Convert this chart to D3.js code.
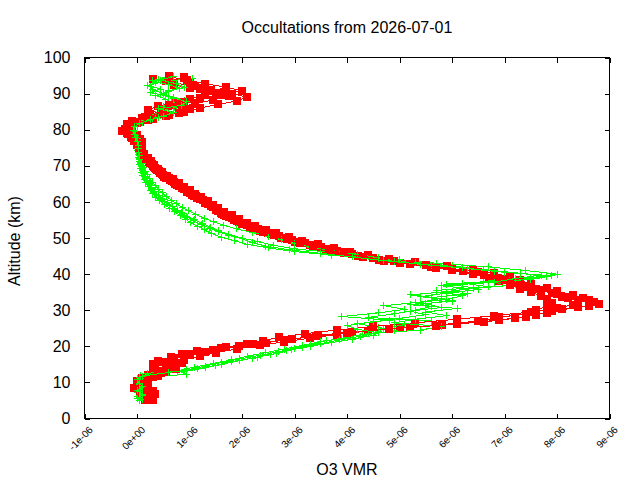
<!DOCTYPE html>
<html>
<head>
<meta charset="utf-8">
<script src="https://cdn.jsdelivr.net/npm/d3@7"></script>
<style>
  body { margin: 0; background: #fff; }
  text { font-family: "Liberation Sans", Arial, sans-serif; fill: #000; }
</style>
</head>
<body>
<script>
// Tangent altitudes (km) of the four occultation grids
const altitudesA = [
  5, 6, 7, 8, 9, 10, 11, 12, 13, 14,
  15, 16, 17, 18, 19, 20, 21, 22, 23, 24,
  25, 26, 27, 28, 29, 30, 31, 32, 33, 34,
  35, 36, 37, 38, 39, 40, 41, 42, 43, 44,
  45, 46, 47, 48, 49, 50, 51, 52, 53, 54,
  55, 56, 57, 58, 59, 60, 61, 62, 63, 64,
  65, 66, 67, 68, 69, 70, 71, 72, 73, 74,
  75, 76, 77, 78, 79, 80, 81, 82, 83, 84,
  85, 86, 87, 88, 89, 90, 91, 92, 93, 94
];
const altitudesB = [
  5.25, 6.25, 7.25, 8.25, 9.25, 10.25, 11.25, 12.25, 13.25, 14.25,
  15.25, 16.25, 17.25, 18.25, 19.25, 20.25, 21.25, 22.25, 23.25, 24.25,
  25.25, 26.25, 27.25, 28.25, 29.25, 30.25, 31.25, 32.25, 33.25, 34.25,
  35.25, 36.25, 37.25, 38.25, 39.25, 40.25, 41.25, 42.25, 43.25, 44.25,
  45.25, 46.25, 47.25, 48.25, 49.25, 50.25, 51.25, 52.25, 53.25, 54.25,
  55.25, 56.25, 57.25, 58.25, 59.25, 60.25, 61.25, 62.25, 63.25, 64.25,
  65.25, 66.25, 67.25, 68.25, 69.25, 70.25, 71.25, 72.25, 73.25, 74.25,
  75.25, 76.25, 77.25, 78.25, 79.25, 80.25, 81.25, 82.25, 83.25, 84.25,
  85.25, 86.25, 87.25, 88.25, 89.25, 90.25, 91.25, 92.25, 93.25, 94.25
];
const altitudesC = [
  5.5, 6.5, 7.5, 8.5, 9.5, 10.5, 11.5, 12.5, 13.5, 14.5,
  15.5, 16.5, 17.5, 18.5, 19.5, 20.5, 21.5, 22.5, 23.5, 24.5,
  25.5, 26.5, 27.5, 28.5, 29.5, 30.5, 31.5, 32.5, 33.5, 34.5,
  35.5, 36.5, 37.5, 38.5, 39.5, 40.5, 41.5, 42.5, 43.5, 44.5,
  45.5, 46.5, 47.5, 48.5, 49.5, 50.5, 51.5, 52.5, 53.5, 54.5,
  55.5, 56.5, 57.5, 58.5, 59.5, 60.5, 61.5, 62.5, 63.5, 64.5,
  65.5, 66.5, 67.5, 68.5, 69.5, 70.5, 71.5, 72.5, 73.5, 74.5,
  75.5, 76.5, 77.5, 78.5, 79.5, 80.5, 81.5, 82.5, 83.5, 84.5,
  85.5, 86.5, 87.5, 88.5, 89.5, 90.5, 91.5, 92.5, 93.5, 94.5
];
const altitudesD = [
  5.75, 6.75, 7.75, 8.75, 9.75, 10.75, 11.75, 12.75, 13.75, 14.75,
  15.75, 16.75, 17.75, 18.75, 19.75, 20.75, 21.75, 22.75, 23.75, 24.75,
  25.75, 26.75, 27.75, 28.75, 29.75, 30.75, 31.75, 32.75, 33.75, 34.75,
  35.75, 36.75, 37.75, 38.75, 39.75, 40.75, 41.75, 42.75, 43.75, 44.75,
  45.75, 46.75, 47.75, 48.75, 49.75, 50.75, 51.75, 52.75, 53.75, 54.75,
  55.75, 56.75, 57.75, 58.75, 59.75, 60.75, 61.75, 62.75, 63.75, 64.75,
  65.75, 66.75, 67.75, 68.75, 69.75, 70.75, 71.75, 72.75, 73.75, 74.75,
  75.75, 76.75, 77.75, 78.75, 79.75, 80.75, 81.75, 82.75, 83.75, 84.75,
  85.75, 86.75, 87.75, 88.75, 89.75, 90.75, 91.75, 92.75, 93.75, 94.75
];

// O3 VMR in units of 1e-6, red profiles (filled squares)
const red1 = [
  0.15, 0.2, 0.15, 0.05, 0.0, 0.05, 0.15, 0.2, 0.3, 0.35,
  0.3, 0.4, 0.65, 1.0, 1.45, 1.95, 2.45, 2.95, 3.45, 4.1,
  5.0, 5.8, 6.5, 6.9, 7.4, 7.6, 7.8, 7.9, 7.8, 7.7,
  7.5, 7.3, 7.1, 6.9, 6.7, 6.4, 6.0, 5.6, 5.0, 4.6,
  4.2, 3.9, 3.6, 3.3, 3.0, 2.75, 2.55, 2.35, 2.15, 2.0,
  1.85, 1.7, 1.6, 1.5, 1.4, 1.3, 1.15, 1.05, 0.95, 0.85,
  0.72, 0.62, 0.52, 0.43, 0.36, 0.3, 0.22, 0.16, 0.1, 0.06,
  0.03, 0.0, -0.05, -0.12, -0.2, -0.18, -0.1, 0.05, 0.3, 0.6,
  0.9, 1.2, 1.55, 1.9, 2.1, 1.8, 1.4, 1.1, 0.7, 0.3
];
const red2 = [
  0.3, 0.25, 0.2, 0.1, 0.05, 0.0, 0.1, 0.3, 0.45, 0.6,
  0.75, 0.9, 1.2, 1.5, 1.9, 2.35, 2.8, 3.3, 3.8, 4.4,
  5.2, 6.1, 6.9, 7.4, 7.8, 8.1, 8.6, 8.7, 8.5, 8.3,
  8.0, 7.8, 7.5, 7.3, 7.1, 6.8, 6.4, 5.9, 5.3, 4.8,
  4.4, 4.05, 3.75, 3.45, 3.15, 2.9, 2.65, 2.45, 2.25, 2.1,
  1.95, 1.8, 1.65, 1.55, 1.45, 1.35, 1.22, 1.1, 1.0, 0.9,
  0.8, 0.68, 0.58, 0.48, 0.4, 0.33, 0.26, 0.2, 0.14, 0.1,
  0.07, 0.05, 0.0, -0.05, -0.15, -0.22, -0.15, -0.05, 0.1, 0.25,
  0.5, 0.85, 1.1, 1.45, 1.75, 1.5, 1.2, 1.3, 1.0, 0.9
];
const red3 = [
  0.2, 0.1, 0.05, -0.05, 0.0, 0.15, 0.3, 0.45, 0.55, 0.7,
  0.85, 0.9, 1.0, 1.3, 1.6, 2.1, 2.4, 2.7, 3.2, 3.8,
  4.5, 5.3, 6.1, 6.8, 7.5, 8.0, 8.3, 8.4, 8.2, 8.0,
  7.7, 7.5, 7.2, 7.0, 6.8, 6.5, 6.0, 5.5, 4.9, 4.5,
  4.1, 3.8, 3.5, 3.2, 2.95, 2.7, 2.5, 2.3, 2.1, 1.95,
  1.8, 1.65, 1.55, 1.45, 1.35, 1.25, 1.12, 1.0, 0.9, 0.8,
  0.7, 0.6, 0.5, 0.42, 0.34, 0.28, 0.2, 0.14, 0.1, 0.06,
  0.04, 0.1, 0.05, 0.0, -0.1, -0.12, -0.2, -0.1, 0.15, 0.45,
  0.2, 0.4, 0.75, 1.0, 1.3, 1.65, 1.0, 0.7, 0.55, 0.9
];
const red4 = [
  0.25, 0.35, 0.3, 0.2, 0.1, 0.2, 0.4, 0.55, 0.75, 0.6,
  0.5, 0.7, 0.85, 1.15, 1.7, 2.2, 2.8, 3.4, 4.0, 4.8,
  5.7, 6.6, 7.2, 7.6, 7.9, 8.4, 8.8, 8.6, 8.1, 7.9,
  7.6, 7.4, 7.1, 6.9, 6.6, 6.2, 5.7, 5.2, 4.7, 4.3,
  3.95, 3.65, 3.35, 3.1, 2.85, 2.6, 2.4, 2.2, 2.05, 1.9,
  1.75, 1.62, 1.5, 1.4, 1.3, 1.2, 1.08, 0.96, 0.86, 0.76,
  0.66, 0.56, 0.47, 0.39, 0.32, 0.25, 0.18, 0.12, 0.08, 0.04,
  0.0, -0.03, -0.1, -0.18, -0.28, -0.15, 0.0, 0.2, 0.55, 0.8,
  1.0, 0.6, 0.9, 1.2, 1.6, 2.0, 1.7, 1.3, 0.95, 0.6
];

// green profiles (plus marks)
const green1 = [
  0.05, 0.0, 0.1, 0.05, 0.1, 0.05, 0.1, 0.07, 0.9, 1.3,
  1.6, 1.95, 2.3, 2.65, 2.95, 3.3, 3.7, 4.1, 4.5, 4.6,
  4.7, 5.1, 5.6, 4.4, 4.9, 5.3, 5.6, 5.3, 5.9, 6.2,
  5.8, 6.4, 7.2, 6.6, 7.5, 8.0, 7.4, 6.7, 5.7, 5.0,
  4.4, 3.7, 3.0, 2.6, 2.3, 2.0, 1.75, 1.55, 1.4, 1.25,
  1.1, 0.95, 0.85, 0.72, 0.62, 0.52, 0.45, 0.38, 0.32, 0.27,
  0.22, 0.18, 0.14, 0.12, 0.1, 0.08, 0.06, 0.05, 0.03, 0.02,
  0.0, -0.02, 0.0, -0.05, -0.08, -0.1, 0.0, 0.1, 0.3, 0.45,
  0.55, 0.6, 0.8, 0.9, 0.7, 0.5, 0.3, 0.25, 0.35, 0.4
];
const green2 = [
  0.1, 0.05, 0.0, 0.05, 0.0, 0.1, 0.05, 0.95, 0.77, 1.1,
  1.45, 1.8, 2.1, 2.45, 2.8, 3.15, 3.5, 3.9, 4.3, 4.9,
  4.6, 4.2, 4.8, 3.9, 4.6, 5.1, 4.7, 5.4, 5.8, 5.2,
  6.0, 6.4, 5.9, 7.1, 7.8, 7.3, 6.6, 6.0, 5.3, 4.6,
  3.7, 3.0, 2.5, 2.1, 1.85, 1.6, 1.42, 1.28, 1.15, 1.02,
  0.92, 0.82, 0.72, 0.62, 0.52, 0.43, 0.36, 0.3, 0.25, 0.21,
  0.17, 0.14, 0.11, 0.09, 0.07, 0.05, 0.04, 0.03, 0.02, 0.01,
  0.0, -0.01, -0.03, -0.06, -0.1, -0.12, -0.05, 0.05, 0.2, 0.35,
  0.5, 0.7, 0.85, 0.95, 0.6, 0.25, 0.45, 0.2, 0.5, 1.05
];
const green3 = [
  0.0, 0.1, 0.05, 0.1, 0.05, 0.15, 0.1, 0.2, 0.95, 1.3,
  1.6, 1.95, 2.35, 2.7, 3.0, 3.3, 3.6, 4.0, 4.4, 5.4,
  5.8, 4.9, 5.3, 5.9, 5.5, 6.1, 5.2, 6.0, 5.6, 6.3,
  5.7, 6.7, 6.2, 7.5, 7.9, 7.0, 6.3, 5.6, 4.9, 4.6,
  4.2, 3.7, 3.3, 3.0, 2.75, 2.5, 2.2, 1.9, 1.65, 1.45,
  1.28, 1.12, 0.98, 0.86, 0.75, 0.65, 0.56, 0.48, 0.41, 0.35,
  0.29, 0.24, 0.2, 0.16, 0.13, 0.11, 0.09, 0.07, 0.05, 0.04,
  0.03, 0.01, 0.0, -0.03, -0.05, -0.08, -0.02, 0.15, 0.4, 0.6,
  0.75, 0.5, 0.65, 0.55, 0.35, 0.6, 0.8, 0.6, 0.3, 0.55
];
const green4 = [
  0.05, 0.1, 0.0, 0.1, 0.05, 0.0, 0.1, 0.6, 1.15, 1.5,
  1.8, 2.2, 2.55, 2.85, 3.15, 3.5, 3.85, 4.25, 4.6, 4.2,
  4.0, 4.5, 5.0, 5.5, 5.2, 5.8, 5.5, 6.0, 5.4, 5.9,
  6.5, 5.8, 6.8, 7.2, 7.7, 6.8, 6.2, 5.4, 4.7, 4.1,
  3.5, 2.9, 2.45, 2.2, 2.0, 1.75, 1.55, 1.38, 1.22, 1.08,
  0.97, 0.87, 0.78, 0.68, 0.58, 0.49, 0.41, 0.34, 0.28, 0.24,
  0.2, 0.16, 0.13, 0.11, 0.09, 0.07, 0.05, 0.04, 0.03, 0.02,
  0.02, 0.0, -0.02, -0.04, -0.07, -0.05, 0.05, 0.25, 0.5, 0.7,
  0.4, 0.85, 0.95, 0.7, 0.45, 0.6, 0.9, 0.75, 0.45, 0.7
];

// Axis ticks
const xTickValues = [-1e-6, 0, 1e-6, 2e-6, 3e-6, 4e-6, 5e-6, 6e-6, 7e-6, 8e-6, 9e-6];
const xTickLabels = ["-1e-06", "0e+00", "1e-06", "2e-06", "3e-06", "4e-06", "5e-06", "6e-06", "7e-06", "8e-06", "9e-06"];
const yTickValues = [0, 10, 20, 30, 40, 50, 60, 70, 80, 90, 100];

const unit = 1e-6;

// Dimensions
const width = 640;
const height = 480;
const marginLeft = 84.5;
const marginRight = 30.5;
const marginTop = 57.5;
const marginBottom = 61.5;

const x = d3.scaleLinear()
  .domain([-1e-6, 9e-6])
  .range([marginLeft, width - marginRight]);

const y = d3.scaleLinear()
  .domain([0, 100])
  .range([height - marginBottom, marginTop]);

const svg = d3.select("body").append("svg")
  .attr("width", width)
  .attr("height", height)
  .attr("viewBox", [0, 0, width, height]);

svg.append("rect")
  .attr("width", width)
  .attr("height", height)
  .attr("fill", "#fff");

// Draw profiles, alternating colours like the gnuplot output
const series = [
  { values: red1, alts: altitudesA, color: "#ff0000", mark: "square" },
  { values: green1, alts: altitudesA, color: "#00ff00", mark: "plus" },
  { values: red2, alts: altitudesB, color: "#ff0000", mark: "square" },
  { values: green2, alts: altitudesB, color: "#00ff00", mark: "plus" },
  { values: red3, alts: altitudesC, color: "#ff0000", mark: "square" },
  { values: green3, alts: altitudesC, color: "#00ff00", mark: "plus" },
  { values: red4, alts: altitudesD, color: "#ff0000", mark: "square" },
  { values: green4, alts: altitudesD, color: "#00ff00", mark: "plus" }
];

const line = d3.line()
  .x(d => x(d.v * unit))
  .y(d => y(d.alt));

const plot = svg.append("g").attr("shape-rendering", "crispEdges");

series.forEach(s => {
  const pts = s.values.map((v, i) => ({ v: v, alt: s.alts[i] }));
  const g = plot.append("g");

  g.append("path")
    .datum(pts)
    .attr("fill", "none")
    .attr("stroke", s.color)
    .attr("stroke-width", 1)
    .attr("d", line);

  if (s.mark === "square") {
    g.selectAll("rect")
      .data(pts)
      .join("rect")
      .attr("x", d => x(d.v * unit) - 4)
      .attr("y", d => y(d.alt) - 4)
      .attr("width", 8)
      .attr("height", 8)
      .attr("fill", s.color);
  } else {
    g.selectAll("path.plus")
      .data(pts)
      .join("path")
      .attr("class", "plus")
      .attr("fill", "none")
      .attr("stroke", s.color)
      .attr("stroke-width", 1)
      .attr("d", d => {
        const px = x(d.v * unit), py = y(d.alt);
        return `M${px - 3.5},${py}H${px + 3.5}M${px},${py - 3.5}V${py + 3.5}`;
      });
  }
});

// Axes, ticks pointing inward and mirrored on top/right
const tickLen = 5;

const xAxisBottom = svg.append("g")
  .attr("transform", `translate(0,${height - marginBottom})`)
  .call(d3.axisBottom(x).tickValues(xTickValues).tickSize(-tickLen).tickFormat(""));
const xAxisTop = svg.append("g")
  .attr("transform", `translate(0,${marginTop})`)
  .call(d3.axisTop(x).tickValues(xTickValues).tickSize(-tickLen).tickFormat(""));
const yAxisLeft = svg.append("g")
  .attr("transform", `translate(${marginLeft},0)`)
  .call(d3.axisLeft(y).tickValues(yTickValues).tickSize(-tickLen).tickPadding(14));
const yAxisRight = svg.append("g")
  .attr("transform", `translate(${width - marginRight},0)`)
  .call(d3.axisRight(y).tickValues(yTickValues).tickSize(-tickLen).tickFormat(""));

[xAxisBottom, xAxisTop, yAxisLeft, yAxisRight].forEach(a => {
  a.select(".domain").remove();
  a.selectAll("line").attr("stroke", "#000").attr("shape-rendering", "crispEdges");
});

yAxisLeft.selectAll("text")
  .attr("font-size", 16)
  .attr("font-family", "Liberation Sans, Arial, sans-serif")
  .attr("fill", "#000");

// Rotated x tick labels
svg.append("g")
  .selectAll("text")
  .data(xTickValues)
  .join("text")
  .attr("transform", d => `translate(${x(d) + 9},${height - marginBottom + 12}) rotate(-45)`)
  .attr("text-anchor", "end")
  .attr("font-size", 10)
  .text((d, i) => xTickLabels[i]);

// Frame
svg.append("rect")
  .attr("x", marginLeft)
  .attr("y", marginTop)
  .attr("width", width - marginLeft - marginRight)
  .attr("height", height - marginTop - marginBottom)
  .attr("fill", "none")
  .attr("stroke", "#000")
  .attr("shape-rendering", "crispEdges");

// Title and axis labels
svg.append("text")
  .attr("x", 347)
  .attr("y", 33)
  .attr("text-anchor", "middle")
  .attr("font-size", 16)
  .text("Occultations from 2026-07-01");

svg.append("text")
  .attr("x", 347)
  .attr("y", 475)
  .attr("text-anchor", "middle")
  .attr("font-size", 16)
  .text("O3 VMR");

svg.append("text")
  .attr("transform", "translate(20,241) rotate(-90)")
  .attr("text-anchor", "middle")
  .attr("font-size", 16)
  .text("Altitude (km)");
</script>
</body>
</html>
